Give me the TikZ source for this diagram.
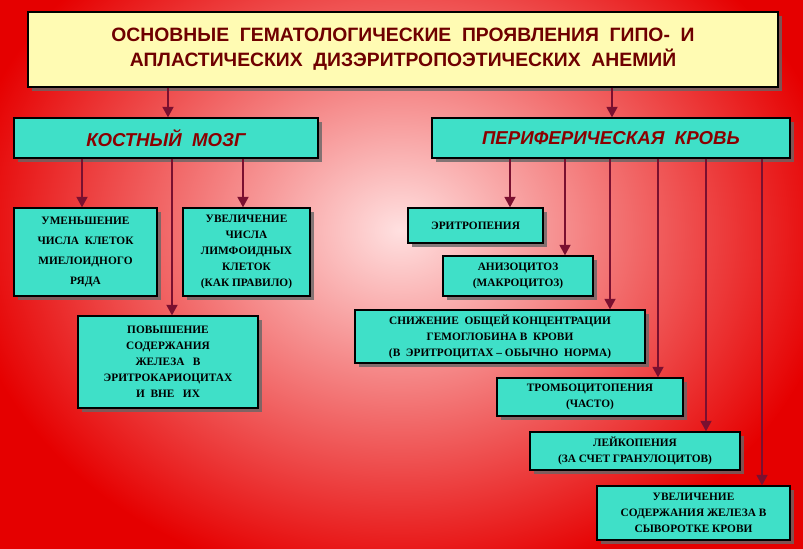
\documentclass[tikz,border=0pt]{standalone}
\usepackage{fontspec}
\setmainfont{Liberation Serif}
\newfontfamily\hsans{Liberation Sans}
\usetikzlibrary{shadows,arrows.meta}
\definecolor{boxc}{HTML}{3FE0C8}
\definecolor{arrc}{HTML}{7A1030}
\definecolor{tred}{HTML}{8B0000}
\tikzset{
 bx/.style={draw=black,line width=0.8pt,fill=boxc,align=center,inner sep=2pt,
   font=\bfseries\fontsize{8.5}{12}\selectfont,drop shadow={shadow xshift=3pt,shadow yshift=-3pt,fill=black!60,opacity=0.8}},
 hd/.style={bx,text=tred,font=\hsans\bfseries\itshape\fontsize{14}{16}\selectfont},
 arr/.style={draw=arrc,line width=2.2pt,-{Triangle[length=8pt,width=8pt]}},
}
\begin{document}
\begin{tikzpicture}[x=0.75pt,y=-0.75pt]
\useasboundingbox (0,0) rectangle (803,549);
\fill[red!90!black] (0,0) rectangle (803,549);
\shade[inner color=white!88!red,outer color=red!90!black] (400,230) ellipse (440 and 360);
\node[bx,fill=yellow!30,text=tred!80!black,minimum width=750*0.75pt,minimum height=75*0.75pt,font=\hsans\bfseries\fontsize{14.5}{19}\selectfont] (t) at (403,49.5)
 {ОСНОВНЫЕ \ ГЕМАТОЛОГИЧЕСКИЕ \ ПРОЯВЛЕНИЯ \ ГИПО- \ И\\АПЛАСТИЧЕСКИХ \ ДИЗЭРИТРОПОЭТИЧЕСКИХ \ АНЕМИЙ};
\node[hd,minimum width=304*0.75pt,minimum height=40*0.75pt] (km) at (166,138) {КОСТНЫЙ \ МОЗГ};
\node[hd,minimum width=358*0.75pt,minimum height=40*0.75pt] (pk) at (611,138) {ПЕРИФЕРИЧЕСКАЯ \ КРОВЬ};
\node[bx,minimum width=143*0.75pt,minimum height=88*0.75pt,font=\bfseries\fontsize{8.5}{15}\selectfont] (a) at (85.5,252) {УМЕНЬШЕНИЕ\\ЧИСЛА \ КЛЕТОК\\МИЕЛОИДНОГО\\РЯДА};
\node[bx,minimum width=127*0.75pt,minimum height=88*0.75pt] (b) at (246.5,252) {УВЕЛИЧЕНИЕ\\ЧИСЛА\\ЛИМФОИДНЫХ\\КЛЕТОК\\(КАК ПРАВИЛО)};
\node[bx,minimum width=180*0.75pt,minimum height=92*0.75pt] (c) at (168,362) {ПОВЫШЕНИЕ\\СОДЕРЖАНИЯ\\ЖЕЛЕЗА \ \ В\\ЭРИТРОКАРИОЦИТАХ\\И \ ВНЕ \ \ ИХ};
\node[bx,minimum width=135*0.75pt,minimum height=35*0.75pt] (d) at (475.5,225.5) {ЭРИТРОПЕНИЯ};
\node[bx,minimum width=150*0.75pt,minimum height=40*0.75pt] (e) at (518,276) {АНИЗОЦИТОЗ\\(МАКРОЦИТОЗ)};
\node[bx,minimum width=290*0.75pt,minimum height=53*0.75pt] (f) at (500,336.5) {СНИЖЕНИЕ \ ОБЩЕЙ КОНЦЕНТРАЦИИ\\ГЕМОГЛОБИНА В \ КРОВИ\\(В \ ЭРИТРОЦИТАХ -- ОБЫЧНО \ НОРМА)};
\node[bx,minimum width=186*0.75pt,minimum height=38*0.75pt] (g) at (590,397) {ТРОМБОЦИТОПЕНИЯ\\(ЧАСТО)};
\node[bx,minimum width=210*0.75pt,minimum height=38*0.75pt] (h) at (635,451) {ЛЕЙКОПЕНИЯ\\(ЗА СЧЕТ ГРАНУЛОЦИТОВ)};
\node[bx,minimum width=193*0.75pt,minimum height=54*0.75pt] (k) at (693.5,513) {УВЕЛИЧЕНИЕ\\СОДЕРЖАНИЯ ЖЕЛЕЗА В\\СЫВОРОТКЕ КРОВИ};
\draw[arr] (t.south -| 168,0) -- (km.north -| 168,0);
\draw[arr] (t.south -| 612,0) -- (pk.north -| 612,0);
\draw[arr] (km.south -| 82,0) -- (a.north -| 82,0);
\draw[arr] (km.south -| 172,0) -- (c.north -| 172,0);
\draw[arr] (km.south -| 243,0) -- (b.north -| 243,0);
\draw[arr] (pk.south -| 510,0) -- (d.north -| 510,0);
\draw[arr] (pk.south -| 565,0) -- (e.north -| 565,0);
\draw[arr] (pk.south -| 610,0) -- (f.north -| 610,0);
\draw[arr] (pk.south -| 658,0) -- (g.north -| 658,0);
\draw[arr] (pk.south -| 706,0) -- (h.north -| 706,0);
\draw[arr] (pk.south -| 762,0) -- (k.north -| 762,0);
\end{tikzpicture}
\end{document}
